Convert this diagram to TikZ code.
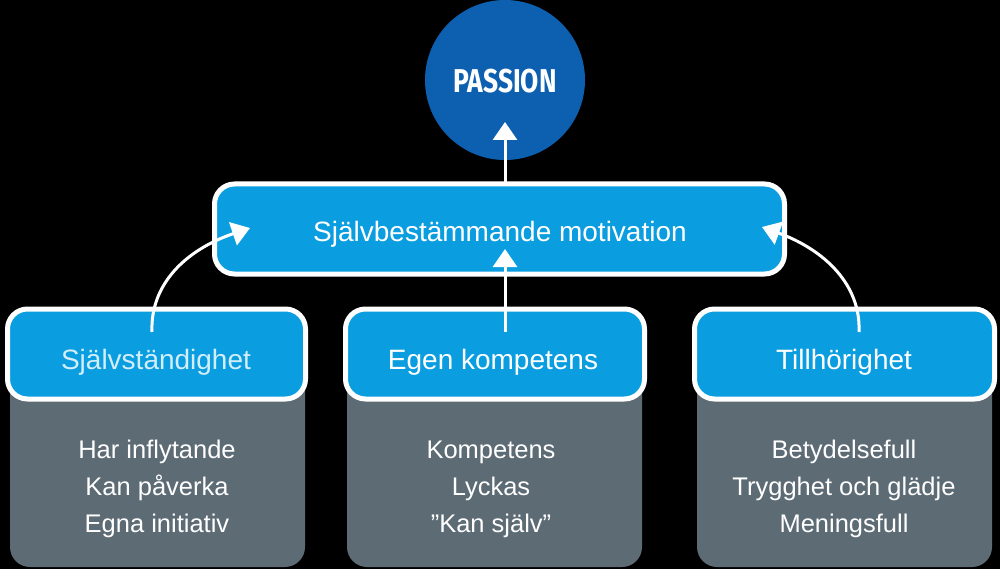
\documentclass[tikz,border=0pt]{standalone}
\usepackage{fontspec}
\setmainfont{Liberation Sans}
\newfontfamily\passfont{Fira Sans}
\usetikzlibrary{arrows.meta}
\definecolor{bgblack}{HTML}{000000}
\definecolor{circblue}{HTML}{0D60AF}
\definecolor{boxcyan}{HTML}{0A9DE0}
\definecolor{bodygray}{HTML}{5D6B75}
\definecolor{lightcyan}{HTML}{D2EEFA}
\tikzset{
  headbox/.style={draw=white, line width=5pt, fill=boxcyan, rounded corners=20pt,
    minimum height=90pt, inner sep=0pt, text=white},
  headtext/.style={inner sep=0pt, text=white, font=\fontsize{28}{32}\selectfont},
  bodybox/.style={fill=bodygray, rounded corners=20pt, inner sep=0pt},
  bodytext/.style={inner sep=0pt, text=white, align=center, font=\fontsize{25.5}{37}\selectfont},
  arr/.style={draw=white, line width=3pt, -{Triangle[width=24pt,length=18pt]}},
}
\begin{document}
\begin{tikzpicture}[x=1pt,y=-1pt]
\fill[bgblack] (0,0) rectangle (1000,569);
\useasboundingbox (0,0) rectangle (1000,569);
% circle
\node[circle, fill=circblue, minimum size=160pt, inner sep=0pt] (passion) at (505,80) {};
\node[inner sep=0pt, text=white] (passtxt) at (505,81)
  {\scalebox{0.8}[1]{\passfont\bfseries\fontsize{33}{36}\selectfont PASSION}};
% bodies
\node[bodybox, minimum width=295pt, minimum height=230pt] (b1) at (157.5,452) {};
\node[bodybox, minimum width=295pt, minimum height=230pt] (b2) at (494.5,452) {};
\node[bodybox, minimum width=295pt, minimum height=230pt] (b3) at (844.5,452) {};
\node[bodytext] (t1txt) at (157,489) {Har inflytande\\Kan påverka\\Egna initiativ};
\node[bodytext] (t2txt) at (491,489) {Kompetens\\Lyckas\\”Kan själv”};
\node[bodytext] (t3txt) at (844,489) {Betydelsefull\\Trygghet och glädje\\Meningsfull};
% headers
\node[headbox, minimum width=298pt] (h1) at (156.5,354) {};
\node[headbox, minimum width=299pt] (h2) at (495,354) {};
\node[headbox, minimum width=300pt] (h3) at (844.5,354) {};
\node[headtext, text=lightcyan] (h1txt) at (156,362) {Självständighet};
\node[headtext] (h2txt) at (493,362) {Egen kompetens};
\node[headtext] (h3txt) at (844,362) {Tillhörighet};
% top box
\node[headbox, minimum width=570pt] (top) at (499.5,229) {};
\node[headtext] (toptxt) at (500,234) {Självbestämmande motivation};
% arrow anchors
\coordinate (s1) at (152,332);
\coordinate (t1) at (250,228);
\coordinate (s2) at (505,332);
\coordinate (t2) at (505,249);
\coordinate (s3) at (859,332);
\coordinate (t3) at (762,227);
\coordinate (s4) at (505,183);
\coordinate (t4) at (505,122);
\draw[arr] (s1) .. controls (150,285) and (185,250) .. (t1);
\draw[arr] (s3) .. controls (861,285) and (825,250) .. (t3);
\draw[arr] (s2) -- (t2);
\draw[arr] (s4) -- (t4);
\end{tikzpicture}
\end{document}
